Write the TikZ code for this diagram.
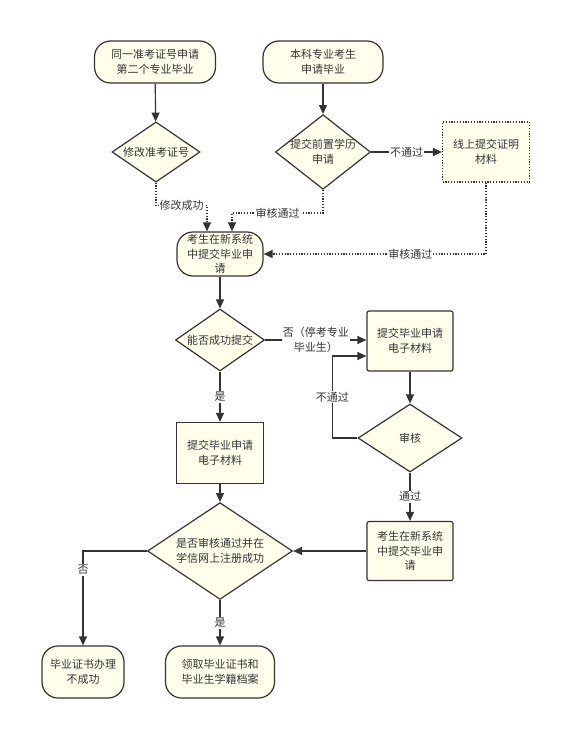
\documentclass[tikz,border=0pt]{standalone}
\usepackage{fontspec}
\setmainfont{Noto Sans CJK SC}
\usepackage{tikz}
\usetikzlibrary{shapes.geometric,arrows.meta}
\definecolor{ink}{HTML}{333333}
\definecolor{cream}{HTML}{FFFFEC}

\begin{document}
\begin{tikzpicture}[x=1pt,y=-1pt,
  every node/.style={font=\fontsize{11}{14.5}\selectfont,text=ink,align=center},
  term/.style={draw=ink,fill=cream,line width=1.2pt,rounded corners=16pt,inner sep=0pt},
  box/.style={draw=ink,fill=cream,line width=1.2pt,inner sep=0pt},
  dotbox/.style={draw=ink,fill=cream,line width=1.2pt,dash pattern=on 1.2pt off 1.6pt,inner sep=0pt},
  dia/.style={diamond,draw=ink,fill=cream,line width=1.2pt,inner sep=-4pt},
  arr/.style={draw=ink,line width=1.2pt,-{Triangle[length=9pt,width=8pt]}},
  darr/.style={draw=ink,line width=1.2pt,dash pattern=on 1.2pt off 1.6pt,-{Triangle[length=9pt,width=8pt]}},
  lbl/.style={fill=white,inner sep=1pt}]
\useasboundingbox[fill=white] (0,0) rectangle (582,751);
\node [term,minimum width=121pt,minimum height=42pt] (tongyi) at (155,62) {同一准考证号申请\\第二个专业毕业};
\node [term,minimum width=120pt,minimum height=42pt] (benke) at (323,62) {本科专业考生\\申请毕业};
\node [dia,minimum width=88pt,minimum height=60pt] (xiugai) at (156,152) {修改准考证号};
\node [dia,minimum width=95pt,minimum height=60pt] (qianzhi) at (323,152) {提交前置学历\\申请};
\node [dotbox,minimum width=87pt,minimum height=60pt] (xianshang) at (486,152) {线上提交证明\\材料};
\node [term,minimum width=86pt,minimum height=44pt] (tijiao) at (220,254) {考生在新系统\\中提交毕业申\\请};
\node [dia,minimum width=89pt,minimum height=62pt] (nengfou) at (220,340) {能否成功提交};
\node [box,minimum width=87pt,minimum height=61pt] (cailiaoA) at (220,453) {提交毕业申请\\电子材料};
\node [box,rounded corners=2pt,minimum width=86pt,minimum height=60pt] (cailiaoB) at (410,341) {提交毕业申请\\电子材料};
\node [dia,minimum width=104pt,minimum height=68pt] (shenhe) at (410,438) {审核};
\node [box,rounded corners=2pt,minimum width=86pt,minimum height=59pt] (tijiaoB) at (410,551) {考生在新系统\\中提交毕业申\\请};
\node [dia,minimum width=145pt,minimum height=69pt] (zhuce) at (220,551) {是否审核通过并在\\学信网上注册成功};
\node [term,minimum width=82pt,minimum height=52pt] (bucheng) at (83,672) {毕业证书办理\\不成功};
\node [term,minimum width=109pt,minimum height=52pt] (lingqu) at (220,672) {领取毕业证书和\\毕业生学籍档案};

\draw [arr] (tongyi) -- (xiugai);
\draw [arr] (benke) -- (qianzhi);
\draw [arr] (qianzhi) -- node [lbl] {不通过} (xianshang);
\draw [darr] (xiugai.south) -- ++(0,23) -| node [lbl,pos=0.25] {修改成功} ([xshift=-13pt]tijiao.north);
\draw [darr] (qianzhi.south) -- ++(0,23) -| node [lbl,pos=0.25] {审核通过} ([xshift=12pt]tijiao.north);
\draw [darr] (xianshang.south) |- node [lbl,pos=0.67] {审核通过} (tijiao.east);
\draw [arr] (tijiao) -- (nengfou);
\draw [arr] (nengfou) -- node [lbl] {是} (cailiaoA);
\draw [arr] (nengfou.east) -- node [lbl] {否（停考专业\\毕业生）} (cailiaoB.west |- nengfou.east);
\draw [arr] (cailiaoB) -- (shenhe);
\draw [arr] (shenhe.west) -- ++(-25,0) |- node [lbl,pos=0.25] {不通过} ([yshift=-15pt]cailiaoB.west);
\draw [arr] (shenhe) -- node [lbl] {通过} (tijiaoB);
\draw [arr] (tijiaoB) -- (zhuce);
\draw [arr] (cailiaoA) -- (zhuce);
\draw [arr] (zhuce.west) -| node [lbl,pos=0.6] {否} (bucheng.north);
\draw [arr] (zhuce) -- node [lbl] {是} (lingqu);
\end{tikzpicture}
\end{document}
